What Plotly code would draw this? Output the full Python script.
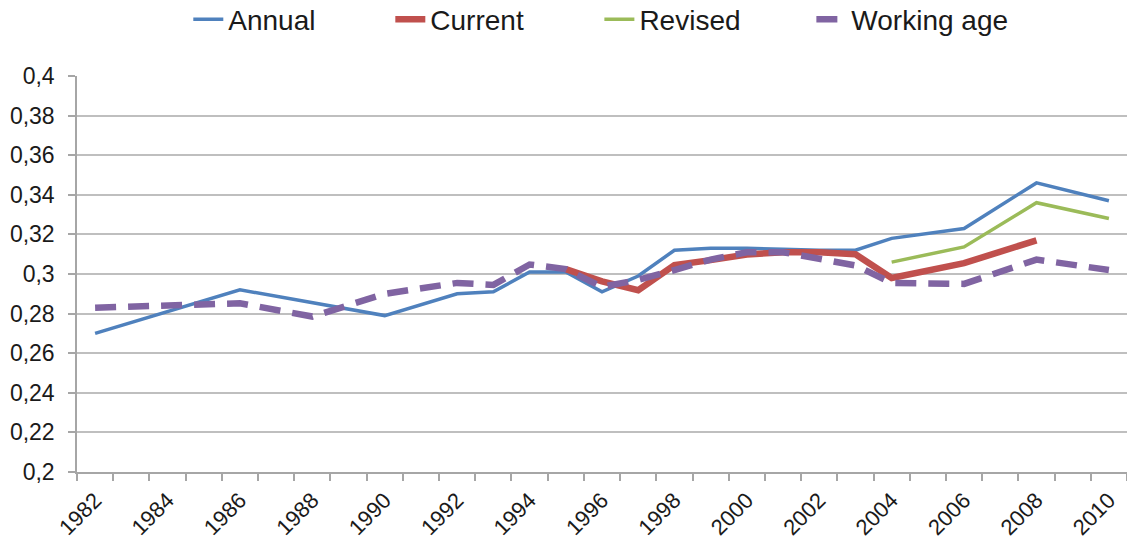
import plotly.graph_objects as go

years = list(range(1982, 2011))

annual = [0.270, None, None, None, 0.292, None, None, None, 0.279, None,
          0.290, 0.291, 0.301, 0.301, 0.291, 0.299, 0.312, 0.313, 0.313, 0.3125,
          0.312, 0.312, 0.318, None, 0.323, None, 0.346, None, 0.337]

current = [None] * 13 + [0.3025, 0.2963, 0.2918, 0.3045, 0.307, 0.3098, 0.311,
                         0.311, 0.310, 0.298, None, 0.3055, None, 0.317, None, None]

revised = [None] * 22 + [0.306, None, 0.3137, None, 0.336, None, 0.328]

working_age = [0.283, None, 0.284, None, 0.2852, None, 0.2785, None, 0.290, None,
               0.2955, 0.2945, 0.3048, 0.3025, 0.2935, 0.297, 0.302, 0.3073, 0.311, 0.311,
               0.3077, 0.3043, 0.2955, None, 0.295, None, 0.3073, None, 0.302]

x_tick_years = list(range(1982, 2011, 2))
y_tick_vals = [0.2, 0.22, 0.24, 0.26, 0.28, 0.3, 0.32, 0.34, 0.36, 0.38, 0.4]
y_tick_text = ["0,2", "0,22", "0,24", "0,26", "0,28", "0,3", "0,32", "0,34", "0,36", "0,38", "0,4"]

fig = go.Figure()
fig.add_trace(go.Scatter(x=years, y=annual, name="Annual", mode="lines", connectgaps=True,
                         legend="legend", line=dict(color="#4F81BD", width=3.5)))
fig.add_trace(go.Scatter(x=years, y=current, name="Current", mode="lines", connectgaps=True,
                         legend="legend2", line=dict(color="#C0504D", width=6.5)))
fig.add_trace(go.Scatter(x=years, y=revised, name="Revised", mode="lines", connectgaps=True,
                         legend="legend3", line=dict(color="#9BBB59", width=3.5)))
fig.add_trace(go.Scatter(x=years, y=working_age, name="Working age", mode="lines", connectgaps=True,
                         legend="legend4", line=dict(color="#8064A2", width=6.5, dash="21px,12px")))

font_family = "Liberation Sans, Arial, sans-serif"
text_color = "#1A1A1A"


def legend_box(xpos):
    return dict(orientation="h", x=xpos, xanchor="left", y=1.1427, yanchor="middle",
                font=dict(size=28, color=text_color), bgcolor="rgba(0,0,0,0)")


fig.update_layout(
    width=1127, height=542,
    margin=dict(l=77, r=0, t=76, b=70, autoexpand=False),
    paper_bgcolor="white", plot_bgcolor="white",
    font=dict(family=font_family, color=text_color, size=20),
    hovermode=False,
    showlegend=True,
    legend=legend_box(0.106),
    legend2=legend_box(0.2984),
    legend3=legend_box(0.4975),
    legend4=legend_box(0.6994),
    xaxis=dict(range=[1981.5, 2010.5], tickmode="array", tickvals=x_tick_years,
               ticktext=[str(y) for y in x_tick_years], tickangle=-45,
               ticks="", showgrid=False, zeroline=False, automargin=False,
               showline=True, linecolor="#A6A6A6", linewidth=1.5, ticklabelstandoff=5,
               tickfont=dict(size=22, color=text_color),
               minor=dict(tickmode="linear", tick0=1981.5, dtick=1, ticks="outside",
                          ticklen=7, tickcolor="#A6A6A6", tickwidth=1.5, showgrid=False)),
    yaxis=dict(range=[0.2, 0.4], tickmode="array", tickvals=y_tick_vals, ticktext=y_tick_text,
               showgrid=True, gridcolor="#BFBFBF", gridwidth=1.5, zeroline=False, automargin=False,
               showline=True, linecolor="#A6A6A6", linewidth=1.5, ticklabelstandoff=9,
               ticks="outside", ticklen=7, tickcolor="#A6A6A6", tickwidth=1.5,
               tickfont=dict(size=23, color=text_color)),
)

# remove the page's default body margin so the figure sits at the top-left corner
fig.write_html("out.html", config={"displayModeBar": False},
               post_script="document.body.style.margin='0';")
